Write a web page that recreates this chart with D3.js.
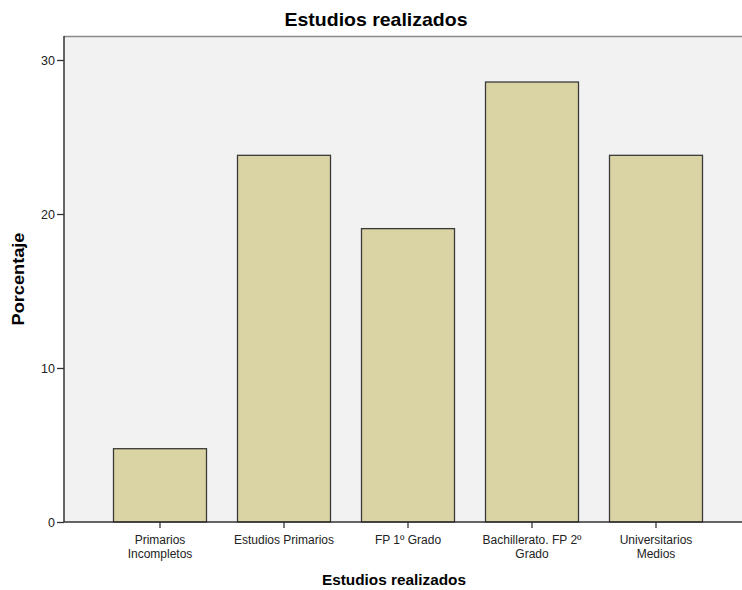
<!DOCTYPE html>
<html>
<head>
<meta charset="utf-8">
<script src="https://cdn.jsdelivr.net/npm/d3@7"></script>
<style>
  body { margin: 0; background: #fff; }
  text { font-family: Arial, "Liberation Sans", sans-serif; }
</style>
</head>
<body>
<script>
const categories = [
  ["Primarios", "Incompletos"],
  ["Estudios Primarios"],
  ["FP 1º Grado"],
  ["Bachillerato. FP 2º", "Grado"],
  ["Universitarios", "Medios"]
]
const percentages = [4.76, 23.81, 19.05, 28.57, 23.81]
const yTicks = [0, 10, 20, 30]

const width = 742, height = 590
const plot = { left: 64, top: 36, right: 742, bottom: 522 }

const svg = d3.select("body").append("svg")
  .attr("width", width)
  .attr("height", height)

const keys = categories.map(c => c.join(" "))

const x = d3.scaleBand()
  .domain(keys)
  .range([98, 718])
  .paddingInner(0.25)
  .paddingOuter(0.125)

const y = d3.scaleLinear()
  .domain([0, 30])
  .range([plot.bottom, 60])

// plot background
svg.append("rect")
  .attr("x", plot.left).attr("y", plot.top)
  .attr("width", plot.right - plot.left)
  .attr("height", plot.bottom - plot.top)
  .attr("fill", "#f2f2f2")

svg.append("line")
  .attr("x1", plot.left).attr("x2", plot.right)
  .attr("y1", plot.top + 0.5).attr("y2", plot.top + 0.5)
  .attr("stroke", "#8a8a8a").attr("stroke-width", 1.5)

// bars
svg.selectAll(".bar")
  .data(percentages)
  .enter().append("rect")
  .attr("class", "bar")
  .attr("x", (d, i) => x(keys[i]))
  .attr("y", d => y(d))
  .attr("width", x.bandwidth())
  .attr("height", d => y(0) - y(d))
  .attr("fill", "#dad4a4")
  .attr("stroke", "#3a3a3a")
  .attr("stroke-width", 1.3)

// y axis
const yAxis = svg.append("g")
  .attr("transform", `translate(${plot.left},0)`)
  .call(d3.axisLeft(y).tickValues(yTicks).tickSize(7).tickSizeOuter(0).tickPadding(2))
yAxis.select(".domain").attr("d", `M0,${plot.top}V${plot.bottom}`).attr("stroke", "#333").attr("stroke-width", 1.5)
yAxis.selectAll(".tick line").attr("stroke", "#333").attr("stroke-width", 1.3)
yAxis.selectAll(".tick text").attr("font-size", 12.5).attr("fill", "#222")
  .style("font-family", "Arial, 'Liberation Sans', sans-serif")

// x axis
const xAxis = svg.append("g")
  .attr("transform", `translate(0,${plot.bottom})`)
  .call(d3.axisBottom(x).tickSize(6).tickSizeOuter(0).tickFormat(""))
xAxis.select(".domain").attr("d", `M${plot.left},0H${plot.right}`).attr("stroke", "#333").attr("stroke-width", 1.5)
xAxis.selectAll(".tick line").attr("stroke", "#333").attr("stroke-width", 1.3)

xAxis.selectAll(".tick").each(function (d, i) {
  const t = d3.select(this).append("text")
    .attr("fill", "#222")
    .attr("font-size", 12)
    .attr("text-anchor", "middle")
    .style("font-family", "Arial, 'Liberation Sans', sans-serif")
  categories[i].forEach((line, j) => {
    t.append("tspan").attr("x", 0).attr("y", 22 + j * 14).text(line)
  })
})

// titles
svg.append("text")
  .attr("x", 376).attr("y", 26)
  .attr("text-anchor", "middle")
  .attr("font-size", 18.5).attr("font-weight", "bold")
  .attr("textLength", 183).attr("lengthAdjust", "spacingAndGlyphs")
  .text("Estudios realizados")

svg.append("text")
  .attr("x", 394).attr("y", 585)
  .attr("text-anchor", "middle")
  .attr("font-size", 15.5).attr("font-weight", "bold")
  .attr("textLength", 144).attr("lengthAdjust", "spacingAndGlyphs")
  .text("Estudios realizados")

svg.append("text")
  .attr("transform", "translate(24,279) rotate(-90)")
  .attr("text-anchor", "middle")
  .attr("font-size", 17).attr("font-weight", "bold")
  .attr("textLength", 93).attr("lengthAdjust", "spacingAndGlyphs")
  .text("Porcentaje")
</script>
</body>
</html>
